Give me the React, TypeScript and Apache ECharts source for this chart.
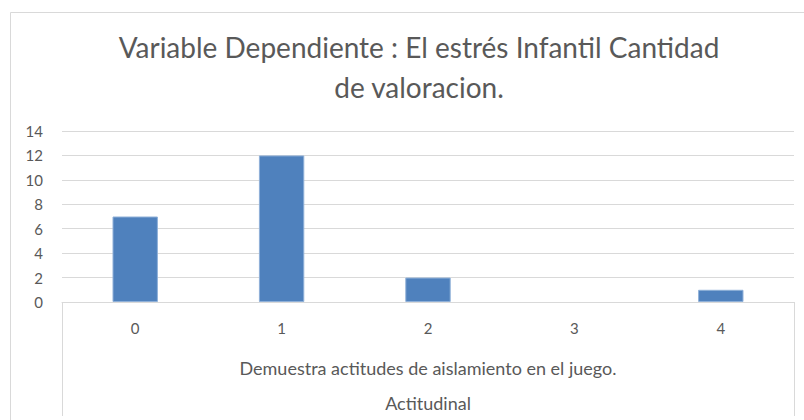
import React, { useEffect, useRef } from "react";
import * as echarts from "echarts";

const categories = ["0", "1", "2", "3", "4"];
const values = [7, 12, 2, 0, 1];
const titleLines = ["Variable Dependiente : El estrés Infantil Cantidad", "de valoracion."];
const axisName = "Demuestra actitudes de aislamiento en el juego.";
const groupName = "Actitudinal";

const W = 804;
const H = 420;
const GL = 62;
const GR = 794;
const GT = 131;
const GB = 302;
const FONT = "Lato, 'Open Sans', sans-serif";

export default function App() {
  const ref = useRef<HTMLDivElement>(null);
  useEffect(() => {
    if (!ref.current) return;
    const chart = echarts.init(ref.current, null, { renderer: "svg" });
    chart.setOption({
      animation: false,
      backgroundColor: "#ffffff",
      textStyle: { fontFamily: FONT },
      title: {
        text: titleLines.join("\n"),
        left: 414,
        top: 22,
        textAlign: "center",
        textStyle: {
          fontFamily: FONT,
          fontSize: 28,
          fontWeight: "normal",
          color: "#595959",
          lineHeight: 40,
        },
      },
      grid: { left: GL, right: W - GR, top: GT, bottom: H - GB },
      xAxis: {
        type: "category",
        data: categories,
        name: axisName,
        nameLocation: "middle",
        nameGap: 57,
        nameTextStyle: { fontFamily: FONT, fontSize: 18, color: "#595959" },
        axisLine: { show: true, lineStyle: { color: "#d9d9d9", width: 1 } },
        axisTick: { show: false },
        axisLabel: { margin: 18, fontFamily: FONT, fontSize: 15, color: "#595959" },
      },
      yAxis: {
        type: "value",
        min: 0,
        max: 14,
        interval: 2,
        axisLine: { show: false },
        axisTick: { show: false },
        axisLabel: { margin: 19, fontFamily: FONT, fontSize: 15, color: "#595959" },
        splitLine: { lineStyle: { color: "#d9d9d9", width: 1 } },
      },
      series: [
        {
          type: "bar",
          data: values.map((v) =>
            v === 0 ? { value: v, itemStyle: { borderWidth: 0 } } : v
          ),
          barWidth: "31%",
          itemStyle: { color: "#4f81bd", borderColor: "#8fb0d8", borderWidth: 1 },
        },
      ],
      graphic: [
        {
          type: "rect",
          shape: { x: 10.5, y: 12.5, width: 820, height: 420 },
          style: { fill: "none", stroke: "#d9d9d9", lineWidth: 1 },
          silent: true,
        },
        {
          type: "line",
          shape: { x1: GL + 0.5, y1: GB, x2: GL + 0.5, y2: 416 },
          style: { stroke: "#d9d9d9", lineWidth: 1 },
          silent: true,
        },
        {
          type: "line",
          shape: { x1: GR + 0.5, y1: GB, x2: GR + 0.5, y2: 416 },
          style: { stroke: "#d9d9d9", lineWidth: 1 },
          silent: true,
        },
        {
          type: "text",
          x: (GL + GR) / 2,
          y: 403,
          style: {
            text: groupName,
            fontFamily: FONT,
            fontSize: 18,
            fill: "#595959",
            textAlign: "center",
            textVerticalAlign: "middle",
          },
          silent: true,
        },
      ],
    });
    return () => chart.dispose();
  }, []);
  return (
    <div
      ref={ref}
      style={{ position: "fixed", left: 0, top: 0, width: W, height: H }}
    />
  );
}
